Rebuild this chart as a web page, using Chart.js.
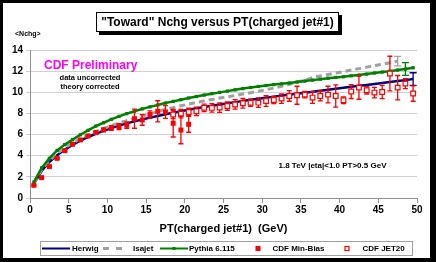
<!DOCTYPE html>
<html>
<head>
<meta charset="utf-8">
<script src="https://cdn.jsdelivr.net/npm/chart.js@4.4.0/dist/chart.umd.min.js"></script>
<style>
html, body { margin: 0; padding: 0; background: #fff; }
#wrap { position: relative; width: 436px; height: 262px; }
</style>
</head>
<body>
<div id="wrap"><canvas id="nchgChart" width="436" height="262"></canvas></div>
<script>
// PT(charged jet#1) bin centres (GeV)
var ptBins = [0.5, 1.5, 2.5, 3.5, 4.5, 5.5, 6.5, 7.5, 8.5, 9.5,
    10.5, 11.5, 12.5, 13.5, 14.5, 15.5, 16.5, 17.5, 18.5, 19.5,
    20.5, 21.5, 22.5, 23.5, 24.5, 25.5, 26.5, 27.5, 28.5, 29.5,
    30.5, 31.5, 32.5, 33.5, 34.5, 35.5, 36.5, 37.5, 38.5, 39.5,
    40.5, 41.5, 42.5, 43.5, 44.5, 45.5, 46.5, 47.5, 48.5, 49.5];

var herwig = [1.35, 2.55, 3.4, 4.05, 4.58, 5.03, 5.42, 5.77, 6.08, 6.36,
    6.62, 6.86, 7.06, 7.25, 7.43, 7.6, 7.76, 7.92, 8.07, 8.21,
    8.35, 8.48, 8.61, 8.73, 8.85, 8.96, 9.07, 9.18, 9.29, 9.39,
    9.49, 9.59, 9.69, 9.78, 9.87, 9.96, 10.05, 10.14, 10.23, 10.33,
    10.43, 10.52, 10.61, 10.7, 10.79, 10.88, 10.97, 11.06, 11.15, 11.25];

var isajet = [1.4, 2.7, 3.55, 4.2, 4.75, 5.2, 5.6, 5.95, 6.27, 6.57,
    6.84, 7.09, 7.32, 7.54, 7.75, 7.95, 8.17, 8.38, 8.55, 8.72,
    8.88, 9.03, 9.18, 9.32, 9.45, 9.57, 9.7, 9.83, 9.96, 10.1,
    10.25, 10.4, 10.57, 10.75, 10.95, 11.15, 11.4, 11.54, 11.68, 11.82,
    11.96, 12.1, 12.24, 12.38, 12.52, 12.66, 12.8, 12.95];

var pythia = [1.5, 2.85, 3.75, 4.5, 5.05, 5.52, 5.98, 6.4, 6.8, 7.12,
    7.44, 7.72, 7.98, 8.2, 8.43, 8.62, 8.8, 8.98, 9.14, 9.3,
    9.46, 9.6, 9.74, 9.87, 9.99, 10.11, 10.23, 10.35, 10.45, 10.55,
    10.64, 10.73, 10.8, 10.88, 10.97, 11.06, 11.15, 11.24, 11.33, 11.4,
    11.47, 11.56, 11.63, 11.72, 11.82, 11.91, 12.0, 12.1, 12.2, 12.32];

// one typical theory uncertainty each: [pt, error]
var herwigErrBar = [49.5, 0.6];
var isajetErrBar = [47.5, 0.45];
var pythiaErrBar = [48.5, 0.6];

var minBias = [1.2, 1.93, 2.97, 3.75, 4.48, 5.08, 5.49, 5.87, 6.19, 6.44,
    6.62, 6.75, 6.9, 7.5, 7.38, 7.9, 8.2, 8.14, 7.07, 6.43, 6.97];
var minBiasErr = [0.05, 0.05, 0.06, 0.07, 0.08, 0.09, 0.1, 0.12, 0.14, 0.16,
    0.22, 0.28, 0.3, 0.9, 0.5, 0.35, 1.0, 0.6, 1.3, 1.3, 0.75];

var jet20 = [7.9, 7.98, 8.14, 8.2, 8.53, 8.52, 8.55, 8.7, 8.85, 8.96,
    9.01, 9.02, 9.17, 9.27, 9.4, 9.65, 9.72, 9.78, 9.5, 9.65,
    9.78, 9.65, 9.25, 10.07, 10.44, 10.19, 9.97, 10.03, 11.77, 10.44,
    10.82, 9.88];
var jet20Err = [0.4, 0.4, 0.35, 0.4, 0.35, 0.4, 0.45, 0.4, 0.45, 0.45,
    0.35, 0.45, 0.5, 0.35, 0.45, 0.5, 0.85, 0.3, 0.55, 0.47,
    0.79, 1.05, 0.32, 0.66, 1.1, 0.35, 0.5, 0.63, 1.64, 1.15,
    0.47, 0.73];

var xTicks = [0, 50, 5];
var yTicks = [0, 14, 2];

var FONT = 'Arial, "Liberation Sans", sans-serif';

function pairs(xs, ys) {
    var out = [];
    for (var i = 0; i < ys.length; i++) out.push({x: xs[i], y: ys[i]});
    return out;
}

function errList(xs, ys, es) {
    var out = [];
    for (var i = 0; i < ys.length; i++) out.push([xs[i], ys[i], es[i]]);
    return out;
}

function singleErr(xs, ys, bar) {
    var i = xs.indexOf(bar[0]);
    return [[bar[0], ys[i], bar[1]]];
}

var datasets = [{
    label: 'Herwig',
    data: pairs(ptBins, herwig),
    borderColor: '#000080',
    borderWidth: 2.5,
    pointRadius: 0,
    order: 5,
    errBars: singleErr(ptBins, herwig, herwigErrBar),
    errColor: '#000080', errCap: 3.5
}, {
    label: 'Isajet',
    data: pairs(ptBins.slice(0, isajet.length), isajet),
    borderColor: '#a0a0a0',
    borderWidth: 3,
    borderDash: [6, 4],
    pointRadius: 0,
    order: 4,
    errBars: singleErr(ptBins, isajet, isajetErrBar),
    errColor: '#a0a0a0', errCap: 3.5
}, {
    label: 'Pythia 6.115',
    data: pairs(ptBins, pythia),
    borderColor: '#008000',
    backgroundColor: '#008000',
    borderWidth: 2.5,
    pointStyle: 'rect',
    pointRadius: 2.3,
    pointBorderWidth: 0,
    order: 3,
    errBars: singleErr(ptBins, pythia, pythiaErrBar),
    errColor: '#008000', errCap: 3.5
}, {
    label: 'CDF Min-Bias',
    data: pairs(ptBins, minBias),
    showLine: false,
    borderColor: '#ff0000',
    backgroundColor: '#ff0000',
    pointStyle: 'rect',
    pointRadius: 3.5,
    pointBorderWidth: 0,
    order: 2,
    errBars: errList(ptBins, minBias, minBiasErr),
    errColor: '#ff0000', errCap: 2.5
}, {
    label: 'CDF JET20',
    data: pairs(ptBins.slice(18), jet20),
    showLine: false,
    borderColor: '#ff0000',
    backgroundColor: '#ffffff',
    pointStyle: 'rect',
    pointRadius: 3.3,
    pointBorderWidth: 1.2,
    order: 1,
    errBars: errList(ptBins.slice(18), jet20, jet20Err),
    errColor: '#ff0000', errCap: 2.5
}];

var errorBarPlugin = {
    id: 'errorBars',
    beforeDatasetDraw: function(chart, args) {
        var ds = chart.data.datasets[args.index];
        if (!ds.errBars) return;
        var ctx = chart.ctx, xs = chart.scales.x, ys = chart.scales.y;
        ctx.save();
        ctx.strokeStyle = ds.errColor;
        ctx.lineWidth = 1.3;
        ds.errBars.forEach(function(e) {
            var px = xs.getPixelForValue(e[0]);
            var top = ys.getPixelForValue(e[1] + e[2]);
            var bot = ys.getPixelForValue(e[1] - e[2]);
            ctx.beginPath();
            ctx.moveTo(px, top); ctx.lineTo(px, bot);
            ctx.moveTo(px - ds.errCap, top); ctx.lineTo(px + ds.errCap, top);
            ctx.moveTo(px - ds.errCap, bot); ctx.lineTo(px + ds.errCap, bot);
            ctx.stroke();
        });
        ctx.restore();
    }
};

var decorPlugin = {
    id: 'decor',
    afterDraw: function(chart) {
        var ctx = chart.ctx;
        ctx.save();
        // outer frame
        ctx.fillStyle = '#000';
        ctx.fillRect(0, 0, 436, 3);
        ctx.fillRect(0, 0, 3, 262);
        ctx.fillRect(430, 0, 6, 262);
        ctx.fillRect(0, 258, 436, 4);

        // title box with shadow
        ctx.fillStyle = '#000';
        ctx.fillRect(99, 15, 243, 20);
        ctx.fillStyle = '#fff';
        ctx.fillRect(96, 12, 243, 20);
        ctx.strokeStyle = '#000';
        ctx.lineWidth = 1;
        ctx.strokeRect(96.5, 12.5, 242, 19);
        ctx.fillStyle = '#000';
        ctx.font = 'bold 12px ' + FONT;
        ctx.textAlign = 'center';
        ctx.textBaseline = 'middle';
        ctx.fillText('"Toward" Nchg versus PT(charged jet#1)', 217.5, 22.5);

        ctx.textAlign = 'left';
        ctx.font = 'bold 7px ' + FONT;
        ctx.fillText('<Nchg>', 15, 34);

        ctx.fillStyle = '#ff00ff';
        ctx.font = 'bold 12px ' + FONT;
        ctx.fillText('CDF Preliminary', 44, 65.5);
        ctx.fillStyle = '#000';
        ctx.font = 'bold 7.5px ' + FONT;
        ctx.textAlign = 'center';
        ctx.fillText('data uncorrected', 90, 77.5);
        ctx.fillText('theory corrected', 90, 87);

        ctx.font = 'bold 8px ' + FONT;
        ctx.fillText('1.8 TeV |eta|<1.0 PT>0.5 GeV', 332.5, 166);

        // legend
        ctx.strokeStyle = '#a0a0a0';
        ctx.strokeRect(40.5, 241.5, 372, 14);
        var ly = 248.5;
        ctx.font = 'bold 8px ' + FONT;
        ctx.textAlign = 'left';
        ctx.fillStyle = '#000';
        var ds = chart.data.datasets;
        // Herwig
        ctx.strokeStyle = ds[0].borderColor; ctx.lineWidth = 2;
        ctx.beginPath(); ctx.moveTo(42, ly); ctx.lineTo(70, ly); ctx.stroke();
        ctx.fillText(ds[0].label, 72, ly);
        // Isajet
        ctx.strokeStyle = ds[1].borderColor; ctx.lineWidth = 3;
        ctx.setLineDash([6, 7]);
        ctx.beginPath(); ctx.moveTo(103, ly); ctx.lineTo(126, ly); ctx.stroke();
        ctx.setLineDash([]);
        ctx.fillText(ds[1].label, 133, ly);
        // Pythia
        ctx.strokeStyle = ds[2].borderColor; ctx.lineWidth = 2;
        ctx.beginPath(); ctx.moveTo(160, ly); ctx.lineTo(188, ly); ctx.stroke();
        ctx.fillStyle = ds[2].borderColor;
        ctx.fillRect(172.5, ly - 1.5, 3, 3);
        ctx.fillStyle = '#000';
        ctx.fillText(ds[2].label, 189, ly);
        // Min-Bias
        ctx.fillStyle = '#ff0000';
        ctx.fillRect(255.5, ly - 2.5, 5, 5);
        ctx.fillStyle = '#000';
        ctx.fillText(ds[3].label, 272.5, ly);
        // JET20
        ctx.strokeStyle = '#ff0000'; ctx.lineWidth = 1.2;
        ctx.strokeRect(345, ly - 2, 4, 4);
        ctx.fillText(ds[4].label, 362.5, ly);
        ctx.restore();
    }
};

var config = {
    type: 'line',
    data: { datasets: datasets },
    options: {
        responsive: false,
        animation: false,
        devicePixelRatio: 1,
        layout: { padding: { left: 4, right: 19, top: 50, bottom: 20 } },
        plugins: {
            legend: { display: false },
            title: { display: false },
            tooltip: { enabled: false }
        },
        scales: {
            x: {
                type: 'linear',
                min: xTicks[0],
                max: xTicks[1],
                afterFit: function(scale) { scale.height = 44; },
                ticks: {
                    stepSize: xTicks[2],
                    color: '#000',
                    padding: 1,
                    font: { family: FONT, size: 10, weight: 'bold' }
                },
                grid: { drawOnChartArea: false, drawTicks: true, tickLength: 5, color: '#909090' },
                border: { color: '#909090' },
                title: {
                    display: true,
                    text: 'PT(charged jet#1)  (GeV)',
                    color: '#000',
                    padding: { top: 0, bottom: 6 },
                    font: { family: FONT, size: 11, weight: 'bold' }
                }
            },
            y: {
                min: yTicks[0],
                max: yTicks[1],
                afterFit: function(scale) { scale.width = 26; },
                ticks: {
                    stepSize: yTicks[2],
                    color: '#000',
                    padding: 3,
                    font: { family: FONT, size: 10, weight: 'bold' }
                },
                grid: { color: '#d0d0d0', tickLength: 4 },
                border: { color: '#909090' }
            }
        }
    },
    plugins: [errorBarPlugin, decorPlugin]
};

var ctx = document.getElementById('nchgChart');
window.nchgChart = new Chart(ctx, config);
</script>
</body>
</html>
